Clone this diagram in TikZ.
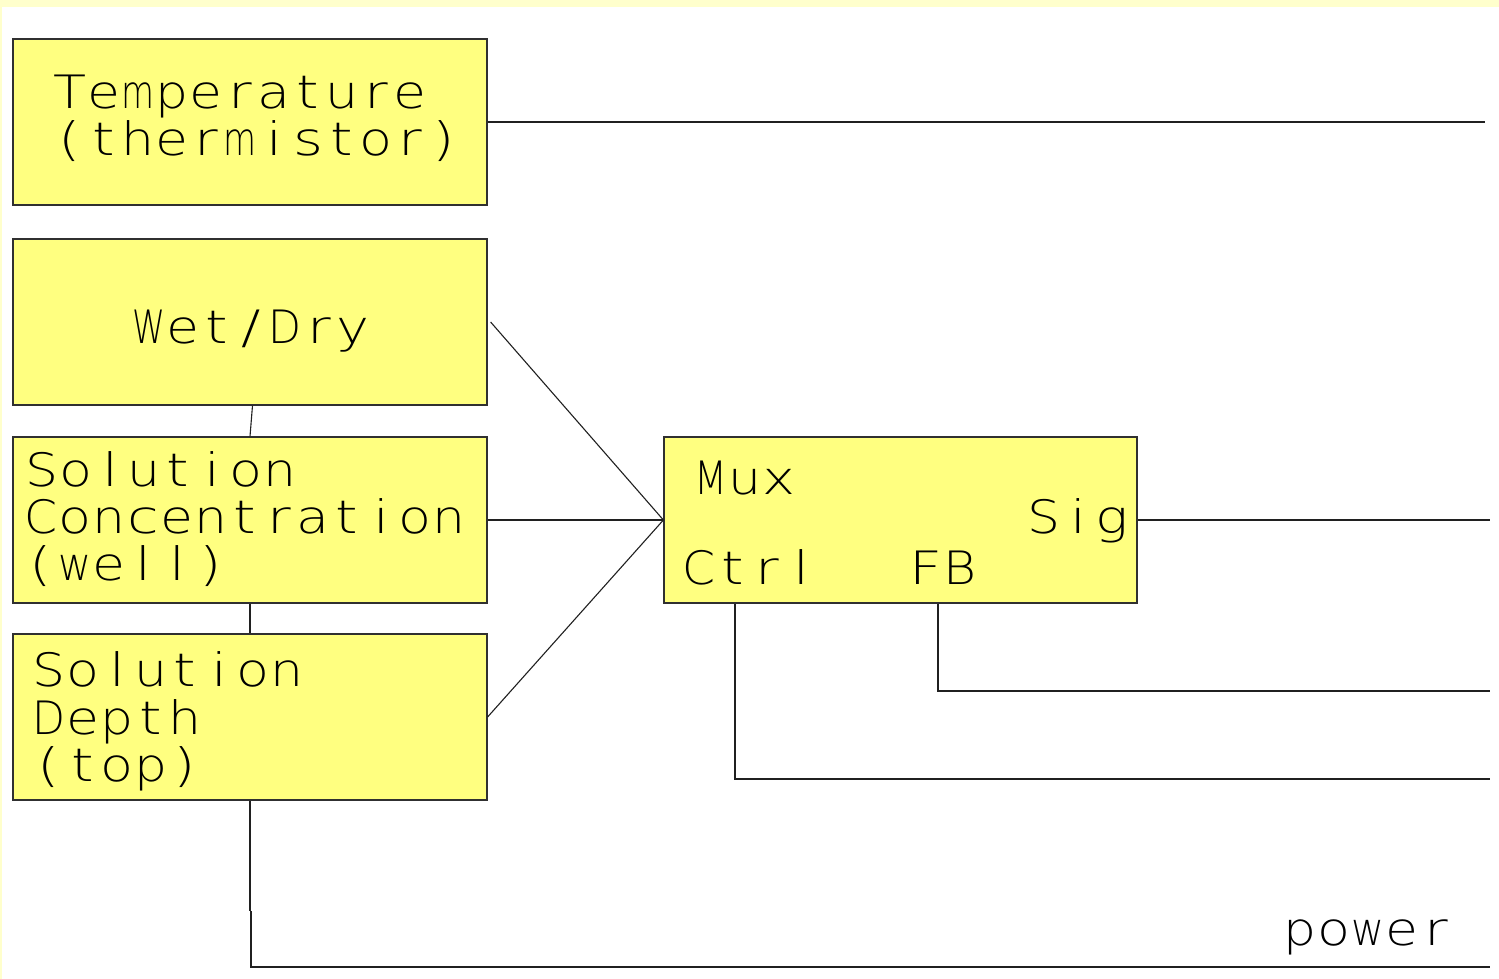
\documentclass[tikz,border=0pt]{standalone}
\usepackage{fontspec}
\usepackage{graphicx}
\newfontfamily\cadfont{DejaVu Sans}[UprightFont=* ExtraLight, FakeStretch=1.25]
% fixed-pitch lettering: every character is centred in a cell of equal width,
% and glyphs wider than \cellmax are squeezed horizontally to fit
\newlength\cellw
\setlength\cellw{34pt}
\newlength\cellmax
\setlength\cellmax{33pt}
\makeatletter
\def\celltext#1{\cell@loop#1\relax}
\def\cell@loop#1{\ifx#1\relax\else\cell@one{#1}\expandafter\cell@loop\fi}
\def\cell@one#1{%
  \setbox0\hbox{#1}%
  \ifdim\wd0>\cellmax\relax
    \makebox[\cellw]{\resizebox{\cellmax}{\height}{#1}}%
  \else
    \makebox[\cellw]{#1}%
  \fi}
\makeatother

\definecolor{boxyellow}{HTML}{FFFF80}
\definecolor{paleband}{HTML}{FFFFCC}
\definecolor{edgegray}{HTML}{303030}
\definecolor{wirecol}{HTML}{202020}

\tikzset{
  block/.style={draw=edgegray, fill=boxyellow, line width=1.2pt,
                minimum width=474pt, minimum height=166pt, inner sep=0pt},
  wire/.style={draw=wirecol, line width=1.1pt},
  lbl/.style={anchor=base west, inner sep=0pt, text=black,
              font=\cadfont\fontsize{46pt}{46pt}\selectfont}
}

\begin{document}
\begin{tikzpicture}[x=1pt, y=-1pt]
  \useasboundingbox (0,0) rectangle (1499,979);
  \fill[white] (0,0) rectangle (1499,979);
  \fill[paleband] (0,0) rectangle (1499,7);
  \fill[paleband] (0,0) rectangle (1.5,979);

  % sensor blocks
  \node[block] (temp)  at (250,122) {};
  \node[block] (wet)   at (250,322) {};
  \node[block] (conc)  at (250,520) {};
  \node[block] (depth) at (250,717) {};
  % multiplexer
  \node[block, minimum width=473pt] (mux) at (900.5,520) {};

  % lettering
  \node[lbl] (tA) at (53,109) {\celltext{Temperature}};
  \node[lbl] (tB) at (53,156) {\celltext{(thermistor)}};
  \node[lbl] (wA) at (132,343) {\celltext{Wet/Dry}};
  \node[lbl] (cA) at (25,486) {\celltext{Solution}};
  \node[lbl] (cB) at (24,533) {\celltext{Concentration}};
  \node[lbl] (cC) at (24,580) {\celltext{(well)}};
  \node[lbl] (dA) at (32,686) {\celltext{Solution}};
  \node[lbl] (dB) at (32,734) {\celltext{Depth}};
  \node[lbl] (dC) at (32,781) {\celltext{(top)}};
  \node[lbl] (mA) at (694,494) {\celltext{Mux}};
  \node[lbl] (mS) at (1027,533) {\celltext{Sig}};
  \node[lbl] (mC) at (682,584) {\celltext{Ctrl}};
  \node[lbl] (mF) at (909,584) {\celltext{FB}};
  \node[lbl] (pw) at (1283,945) {\celltext{power}};

  % free ends and corners of the wiring
  \coordinate (tempend) at (1485,122);
  \coordinate (sigend)  at (1490,520);
  \coordinate (fbcorner) at (938,691);
  \coordinate (fbend)   at (1490,691);
  \coordinate (ctrlcorner) at (735,779);
  \coordinate (ctrlend) at (1490,779);
  \coordinate (pwrA) at (250,911);
  \coordinate (pwrB) at (251,911);
  \coordinate (pwrC) at (251,967);
  \coordinate (pwrend) at (1490,967);

  % wiring
  \draw[wire] (temp.east) -- (tempend);
  \draw[wire] ([xshift=3pt]wet.east) -- (mux.west);
  \draw[wire] (conc.east) -- (mux.west);
  \draw[wire] (depth.east) -- (mux.west);
  \draw[wire] (mux.east) -- (sigend);
  \draw[wire] (mux.south -| fbcorner) -- (fbcorner) -- (fbend);
  \draw[wire] (mux.south -| ctrlcorner) -- (ctrlcorner) -- (ctrlend);
  \draw[wire] ([xshift=2.5pt]wet.south) -- (conc.north);
  \draw[wire] (conc.south) -- (depth.north);
  \draw[wire] (depth.south) -- (pwrA);
  \draw[wire] (pwrB) -- (pwrC) -- (pwrend);
\end{tikzpicture}
\end{document}
